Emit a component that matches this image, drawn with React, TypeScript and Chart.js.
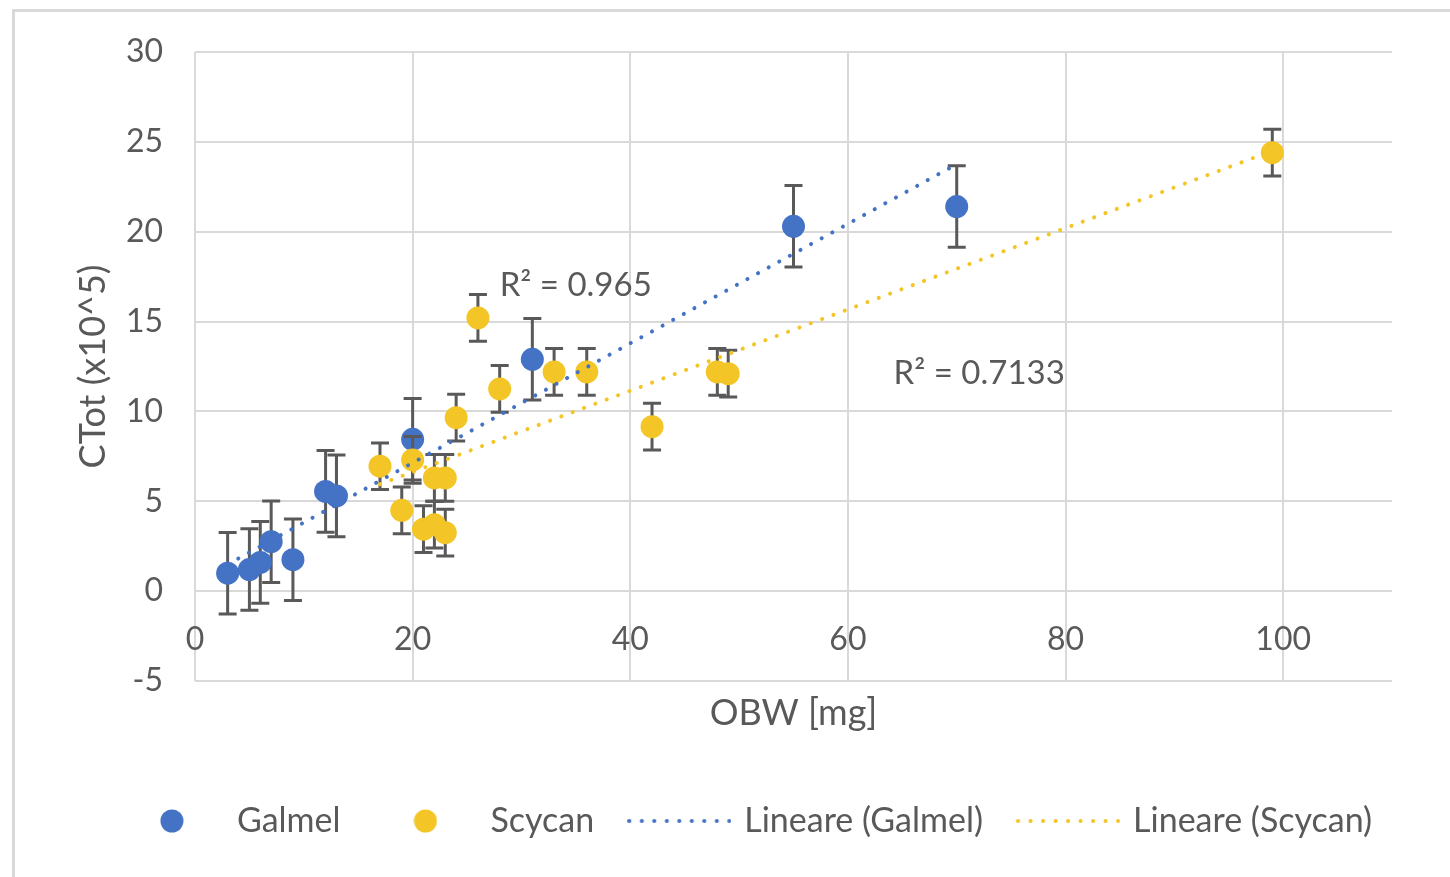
import React, { useEffect, useRef } from 'react';
import { Chart, registerables } from 'chart.js';

Chart.register(...registerables);

// ---- data ----
const galmelX = [3, 5, 6, 7, 9, 12, 13, 20, 31, 55, 70];
const galmelY = [1.0, 1.2, 1.6, 2.75, 1.75, 5.55, 5.3, 8.45, 12.9, 20.3, 21.4];
const galmelErr = [2.27, 2.27, 2.27, 2.27, 2.27, 2.27, 2.27, 2.27, 2.27, 2.27, 2.27];

const scycanX = [17, 19, 20, 21, 22, 22, 23, 23, 24, 26, 28, 33, 36, 42, 48, 49, 99];
const scycanY = [6.95, 4.5, 7.3, 3.45, 6.3, 3.7, 6.3, 3.25, 9.65, 15.2, 11.25, 12.2, 12.2, 9.15, 12.2, 12.1, 24.4];
const scycanErr = [1.3, 1.3, 1.3, 1.3, 1.3, 1.3, 1.3, 1.3, 1.3, 1.3, 1.3, 1.3, 1.3, 1.3, 1.3, 1.3, 1.3];

// linear trend lines (end points)
const galmelTrendX = [3, 70];
const galmelTrendY = [1.49, 23.76];
const scycanTrendX = [17, 99];
const scycanTrendY = [5.95, 24.5];

const seriesLabels = ['Galmel', 'Scycan', 'Lineare (Galmel)', 'Lineare (Scycan)'];
const r2Texts = ['R² = 0.965', 'R² = 0.7133'];
const r2AnchorX = [28, 64.2];
const r2AnchorY = [17.0, 12.1];

const xTickValues = [0, 20, 40, 60, 80, 100];

const BLUE = '#4472C4';
const GOLD = '#F4C526';
const TEXT = '#595959';
const GRID = '#D9D9D9';
const FONT = 'Lato';
const TICK_FS = 32;
const LEGEND_FS = 34;
const LABEL_FS = 33;
const TITLE_FS = 36;

function mkDot(color: string) {
  const c = document.createElement('canvas');
  c.width = 24; c.height = 24;
  const g = c.getContext('2d')!;
  g.fillStyle = color;
  g.beginPath(); g.arc(12, 12, 11.5, 0, Math.PI * 2); g.fill();
  return c;
}
function mkDotted(color: string) {
  const c = document.createElement('canvas');
  c.width = 104; c.height = 8;
  const g = c.getContext('2d')!;
  g.strokeStyle = color; g.lineWidth = 4; g.lineCap = 'round';
  g.setLineDash([0.1, 12.4]);
  g.beginPath(); g.moveTo(2, 4); g.lineTo(102, 4); g.stroke();
  return c;
}

export default function App() {
  const ref = useRef<HTMLCanvasElement>(null);
  useEffect(() => {
    const canvas = ref.current!;
    const legendImgs = [mkDot(BLUE), mkDot(GOLD), mkDotted(BLUE), mkDotted(GOLD)];
    const errs: Record<number, [number[], number[], number[]]> = {
      0: [galmelX, galmelY, galmelErr],
      1: [scycanX, scycanY, scycanErr],
    };

    const errorBars = {
      id: 'errorBars',
      beforeDatasetDraw(chart: any, args: any) {
        const e = errs[args.index];
        if (!e) return;
        const [xs, ys, es] = e;
        const { ctx, scales: { x, y } } = chart;
        ctx.save();
        ctx.strokeStyle = TEXT;
        ctx.lineWidth = 3;
        xs.forEach((xv, i) => {
          const px = x.getPixelForValue(xv);
          const top = y.getPixelForValue(ys[i] + es[i]);
          const bot = y.getPixelForValue(ys[i] - es[i]);
          ctx.beginPath();
          ctx.moveTo(px, top); ctx.lineTo(px, bot);
          ctx.moveTo(px - 9, top); ctx.lineTo(px + 9, top);
          ctx.moveTo(px - 9, bot); ctx.lineTo(px + 9, bot);
          ctx.stroke();
        });
        ctx.restore();
      },
    };

    const extras = {
      id: 'extras',
      afterDraw(chart: any) {
        const { ctx, scales: { x, y } } = chart;
        ctx.save();
        ctx.fillStyle = TEXT;
        ctx.textBaseline = 'middle';
        ctx.textAlign = 'center';
        ctx.font = `${TICK_FS}px ${FONT}`;
        const y0 = y.getPixelForValue(0);
        xTickValues.forEach((v) => {
          ctx.fillText(String(v), x.getPixelForValue(v), y0 + 49);
        });
        ctx.textAlign = 'left';
        ctx.font = `${LABEL_FS}px ${FONT}`;
        r2Texts.forEach((t, i) => {
          ctx.fillText(t, x.getPixelForValue(r2AnchorX[i]), y.getPixelForValue(r2AnchorY[i]));
        });
        ctx.restore();
      },
    };

    const chart = new Chart(canvas, {
      type: 'scatter',
      data: {
        datasets: [
          {
            label: seriesLabels[0],
            data: galmelX.map((v, i) => ({ x: v, y: galmelY[i] })),
            backgroundColor: BLUE, borderColor: BLUE,
            pointRadius: 11.5, pointHoverRadius: 11.5, pointBorderWidth: 0,
            showLine: false, order: 3,
          },
          {
            label: seriesLabels[1],
            data: scycanX.map((v, i) => ({ x: v, y: scycanY[i] })),
            backgroundColor: GOLD, borderColor: GOLD,
            pointRadius: 11.5, pointHoverRadius: 11.5, pointBorderWidth: 0,
            showLine: false, order: 2,
          },
          {
            label: seriesLabels[2],
            data: galmelTrendX.map((v, i) => ({ x: v, y: galmelTrendY[i] })),
            borderColor: BLUE, backgroundColor: BLUE,
            showLine: true, pointRadius: 0, borderWidth: 4,
            borderDash: [0.1, 12], borderCapStyle: 'round', order: 0,
          },
          {
            label: seriesLabels[3],
            data: scycanTrendX.map((v, i) => ({ x: v, y: scycanTrendY[i] })),
            borderColor: GOLD, backgroundColor: GOLD,
            showLine: true, pointRadius: 0, borderWidth: 4,
            borderDash: [0.1, 12], borderCapStyle: 'round', order: 1,
          },
        ] as any,
      },
      options: {
        responsive: false,
        animation: false,
        events: [],
        layout: { padding: { left: 46, right: 0, top: 52, bottom: 29 } },
        plugins: {
          tooltip: { enabled: false },
          legend: {
            position: 'bottom',
            labels: {
              usePointStyle: true,
              pointStyleWidth: 96,
              padding: 37,
              color: TEXT,
              font: { family: FONT, size: LEGEND_FS },
              generateLabels: (ch: any) =>
                ch.data.datasets.map((ds: any, i: number) => ({
                  text: ds.label,
                  pointStyle: legendImgs[i],
                  fillStyle: 'transparent',
                  strokeStyle: 'transparent',
                  lineWidth: 0,
                  hidden: false,
                  datasetIndex: i,
                  fontColor: TEXT,
                })),
            },
          },
        },
        scales: {
          x: {
            type: 'linear',
            min: 0, max: 110,
            ticks: { display: false, stepSize: 20 },
            afterBuildTicks: (s: any) => { s.ticks = s.ticks.filter((t: any) => t.value <= 100); },
            afterFit: (s: any) => { s.height = 86; },
            grid: { color: GRID, lineWidth: 2, drawTicks: false },
            border: { display: false },
            title: { display: true, text: 'OBW [mg]', color: TEXT, font: { family: FONT, size: TITLE_FS }, padding: { top: 0, bottom: 32.4 } },
          },
          y: {
            type: 'linear',
            min: -5, max: 30,
            ticks: { stepSize: 5, color: TEXT, font: { family: FONT, size: TICK_FS }, padding: 32 },
            afterFit: (s: any) => { s.width = 149; },
            grid: { color: GRID, lineWidth: 2, drawTicks: false },
            border: { display: false },
            title: { display: true, text: 'CTot (x10^5)', color: TEXT, font: { family: FONT, size: TITLE_FS }, padding: { top: 25.4, bottom: 0 } },
          },
          // empty right margin like the Excel plot area
          yRight: {
            type: 'linear',
            position: 'right',
            display: true,
            ticks: { display: false },
            grid: { display: false },
            border: { display: false },
            afterFit: (s: any) => { s.width = 58; },
          },
        },
      } as any,
      plugins: [errorBars, extras],
    });
    return () => chart.destroy();
  }, []);

  return (
    <div style={{ position: 'fixed', left: 0, top: 0, width: 1450, height: 877, background: '#fff', overflow: 'hidden' }}>
      <div style={{ position: 'absolute', left: 12, top: 9, width: 1460, height: 900, borderTop: `3px solid ${GRID}`, borderLeft: `3px solid ${GRID}` }} />
      <canvas ref={ref} width={1450} height={877} style={{ position: 'absolute', left: 0, top: 0 }} />
    </div>
  );
}
